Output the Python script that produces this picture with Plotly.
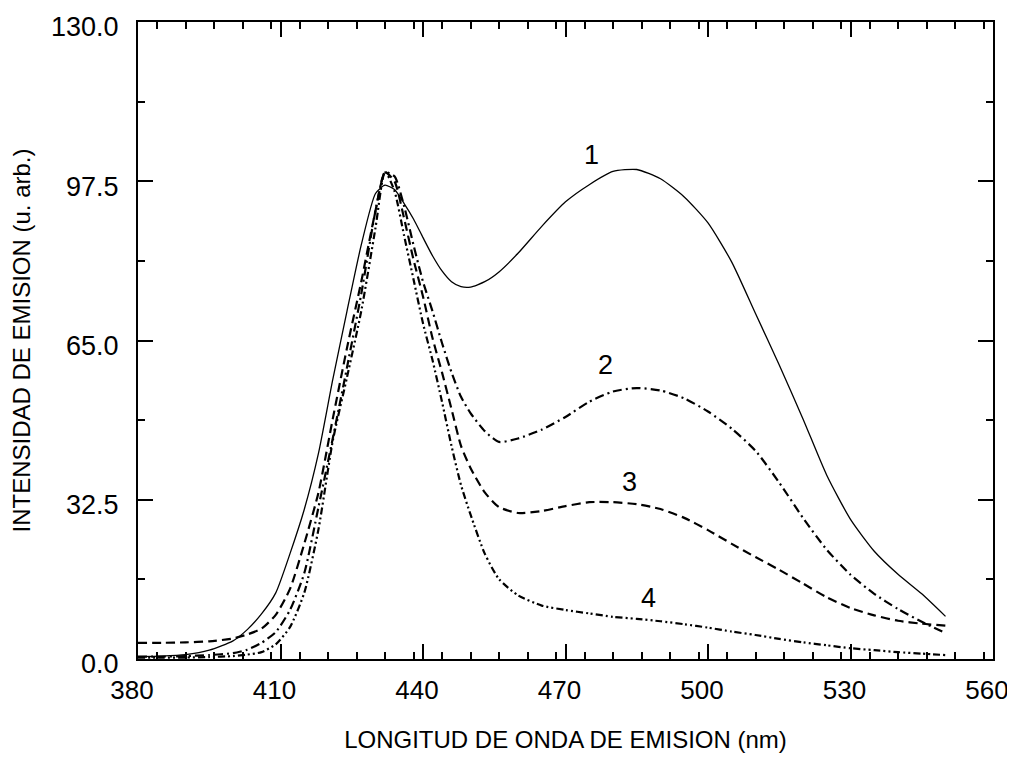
import plotly.graph_objects as go

# emission spectra
wavelength = [380, 385, 390, 395, 400, 403, 406, 409, 412, 415, 418, 421, 424, 427, 430,
              432, 434, 436, 438, 440, 442, 444, 446, 448, 450, 453, 456, 460, 465, 470,
              475, 480, 485, 490, 495, 500, 505, 510, 515, 520, 525, 530, 535, 540, 545, 550]

curve_1 = [0.5, 0.6, 0.9, 1.8, 3.7, 6.0, 9.2, 13.5, 21.5, 30.5, 42.0, 57.0, 71.0, 84.5, 95.0,
           96.7, 95.8, 93.0, 89.8, 86.0, 82.3, 79.2, 77.0, 76.0, 75.9, 77.0, 79.0, 82.8, 88.3, 93.3,
           96.8, 99.5, 99.9, 98.0, 94.3, 89.0, 81.0, 70.5, 60.0, 49.0, 37.5, 28.5, 22.0, 17.3, 13.3, 8.7]

curve_2 = [0.5, 0.5, 0.6, 0.8, 1.2, 1.9, 3.3, 5.5, 10.0, 17.5, 31.0, 45.0, 59.5, 74.5, 91.5,
           99.3, 98.5, 92.5, 84.5, 77.0, 71.0, 64.5, 58.5, 53.5, 50.2, 46.5, 44.3, 45.0, 46.8, 49.4,
           52.5, 54.6, 55.3, 54.8, 53.2, 50.5, 47.0, 42.5, 36.0, 28.8, 22.3, 17.2, 13.3, 10.2, 7.6, 5.3]

curve_3 = [3.3, 3.3, 3.4, 3.6, 4.2, 5.0, 6.2, 9.0, 14.3, 23.5, 34.0, 49.0, 63.5, 77.0, 91.5,
           99.3, 97.5, 90.0, 81.5, 74.0, 65.5, 58.5, 51.0, 43.5, 39.0, 34.0, 31.0, 29.8, 30.2, 31.2,
           32.0, 32.0, 31.6, 30.6, 28.8, 26.3, 23.5, 20.8, 18.2, 15.4, 12.6, 10.4, 8.9, 7.8, 7.2, 6.8]

curve_4 = [0.3, 0.3, 0.3, 0.4, 0.6, 0.9, 1.4, 3.0, 6.5, 13.5, 26.5, 44.5, 57.5, 71.0, 88.0,
           99.5, 95.5, 86.5, 77.5, 68.5, 61.0, 52.5, 43.5, 35.5, 29.5, 21.5, 16.3, 13.0, 10.9, 10.0,
           9.3, 8.6, 8.2, 7.7, 7.1, 6.4, 5.6, 4.9, 4.1, 3.4, 2.8, 2.2, 1.8, 1.4, 1.1, 0.8]

labels = ["1", "2", "3", "4"]
label_x = [475.4, 478.5, 483.4, 487.4]
label_y = [102.9, 60.0, 36.1, 12.4]

font = "Liberation Sans, Arial, sans-serif"

fig = go.Figure()

styles = [
    (curve_1, "solid", 1.3),
    (curve_2, "9px,4px,2px,4px", 2.2),
    (curve_3, "9px,5px", 2.2),
    (curve_4, "7px,3px,2px,3px,2px,3px", 2.2),
]
for ys, dash, w in styles:
    fig.add_trace(go.Scatter(x=wavelength, y=ys, mode="lines",
                             line=dict(color="black", width=w, dash=dash, shape="spline", smoothing=0.6),
                             showlegend=False, hoverinfo="skip"))

for t, lx, ly in zip(labels, label_x, label_y):
    fig.add_annotation(x=lx, y=ly, text=t, showarrow=False,
                       font=dict(family=font, size=27, color="black"))

axis_common = dict(
    showline=True, linecolor="black", linewidth=2, mirror="allticks",
    ticks="inside", ticklen=15, tickwidth=2, tickcolor="black",
    showgrid=False, zeroline=False, automargin=False,
    ticklabeloverflow="allow",
)

fig.update_xaxes(range=[380, 560], dtick=30, tick0=380,
                 minor=dict(dtick=6, ticklen=7, tickwidth=1.5, ticks="inside", tickcolor="black"),
                 ticklabelstandoff=7, ticklabelshift=-6,
                 tickfont=dict(family=font, size=26, color="black"),
                 title=dict(text="LONGITUD DE ONDA DE EMISION (nm)", standoff=28,
                            font=dict(family=font, size=24, color="black")),
                 **axis_common)
fig.update_yaxes(range=[0, 130], dtick=32.5, tick0=0, tickformat=".1f",
                 minor=dict(dtick=16.25, ticklen=7, tickwidth=1.5, ticks="inside", tickcolor="black"),
                 ticklabelstandoff=12, ticklabelshift=5,
                 tickfont=dict(family=font, size=27, color="black"),
                 title=dict(text="INTENSIDAD DE EMISION (u. arb.)", standoff=17,
                            font=dict(family=font, size=24, color="black")),
                 **axis_common)

# the page body adds an 8px offset, so the figure is shrunk and the
# margins shifted to keep the plot box where it is in the original
fig.update_layout(
    width=1007, height=745,
    margin=dict(l=130, r=22, t=14, b=94),
    plot_bgcolor="white", paper_bgcolor="white",
)

fig.write_html("out.html")
